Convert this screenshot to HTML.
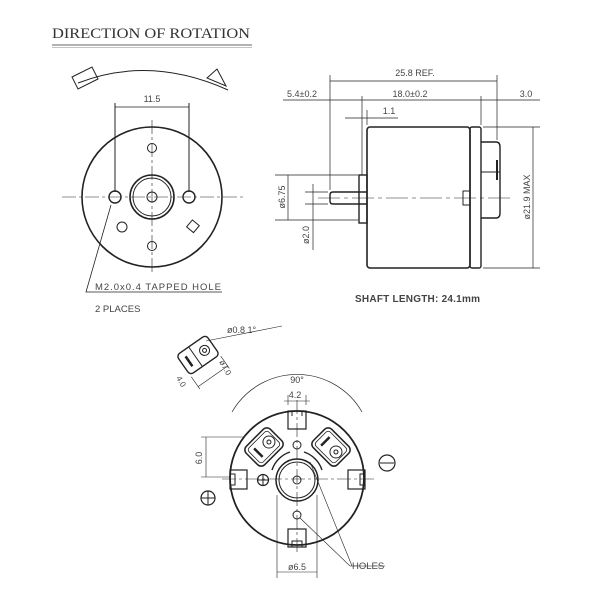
<!DOCTYPE html>
<html><head><style>body{margin:0;background:#fff}svg{display:block}text{font-family:"Liberation Sans",sans-serif;fill:#444}</style></head><body>
<svg width="600" height="600" viewBox="0 0 600 600" xmlns="http://www.w3.org/2000/svg" stroke="#222" fill="none">
<text x="52" y="38" style="font-family:'Liberation Serif',serif;font-size:15px;fill:#333" stroke="none" textLength="198" lengthAdjust="spacingAndGlyphs">DIRECTION OF ROTATION</text>
<line x1="52" y1="45" x2="252" y2="45" stroke-width="1" stroke="#666"/>
<line x1="52" y1="47.5" x2="252" y2="47.5" stroke-width="0.6" stroke="#888"/>
<!-- rotation arc -->
<path d="M78 83 Q150 55 228 90" stroke-width="1"/>
<polygon points="72,77 92,67 98,79 78,89" stroke-width="1"/>
<polygon points="207,78 217,69 226,86" stroke-width="1"/>
<!-- left view -->
<g stroke-width="1">
<line x1="115" y1="103" x2="115" y2="192"/><line x1="189" y1="103" x2="189" y2="192"/>
<line x1="115" y1="107" x2="189" y2="107" stroke-width="0.7"/>
<line x1="62" y1="197" x2="243" y2="197" stroke-dasharray="14 3 3 3" stroke-width="0.6"/>
<line x1="152" y1="120" x2="152" y2="275" stroke-dasharray="14 3 3 3" stroke-width="0.6"/>
</g>
<text x="152" y="102" font-size="9" text-anchor="middle" stroke="none">11.5</text>
<circle cx="152" cy="197" r="70" stroke-width="1.6"/>
<circle cx="152" cy="197" r="22" stroke-width="1.6"/><circle cx="152" cy="197" r="19" stroke-width="1"/>
<circle cx="152" cy="197" r="5"/>
<circle cx="152" cy="148" r="4.5"/><circle cx="152" cy="246" r="4.5"/>
<circle cx="115" cy="197" r="6" stroke-width="1.4"/><circle cx="189" cy="197" r="6" stroke-width="1.4"/>
<circle cx="122" cy="227" r="5"/>
<rect x="188" y="222" width="9" height="9" transform="rotate(40 193 227)"/>
<polyline points="111,205 86,292 222,292" stroke-width="0.8"/>
<text x="95" y="290" font-size="9.5" stroke="none" textLength="126">M2.0x0.4 TAPPED HOLE</text>
<text x="95" y="312" font-size="9.5" stroke="none">2 PLACES</text>
<!-- side view -->
<rect x="367" y="127" width="103" height="141" rx="3" stroke-width="1.6"/>
<rect x="470" y="127" width="11" height="141" rx="2" stroke-width="1.4"/>
<path d="M481 142 h15 q4 0 4 5 v66 q0 5 -4 5 h-15" stroke-width="1.4"/>
<line x1="481" y1="172" x2="500" y2="172"/><line x1="497" y1="160" x2="497" y2="180" stroke-width="2"/>
<path d="M367 192 h-34 q-3 0 -3 3 v6 q0 3 3 3 h34" stroke-width="1.4"/>
<rect x="359" y="175" width="8" height="48" stroke-width="1.4"/>
<rect x="463" y="191" width="7" height="14"/>
<line x1="318" y1="198" x2="510" y2="198" stroke-dasharray="22 4 4 4" stroke-width="0.6"/>
<g stroke-width="0.7">
<line x1="330" y1="75" x2="330" y2="190"/><line x1="497" y1="75" x2="497" y2="140"/>
<line x1="330" y1="81" x2="497" y2="81"/>
<line x1="283" y1="100" x2="540" y2="100"/>
<line x1="362" y1="96" x2="362" y2="175"/><line x1="481" y1="96" x2="481" y2="125"/>
<line x1="345" y1="118" x2="398" y2="118"/><line x1="367" y1="110" x2="367" y2="125"/>
<line x1="275" y1="175" x2="358" y2="175"/><line x1="275" y1="220" x2="358" y2="220"/>
<line x1="288" y1="175" x2="288" y2="220"/>
<line x1="305" y1="192" x2="328" y2="192"/><line x1="305" y1="204" x2="328" y2="204"/>
<line x1="313" y1="184" x2="313" y2="250"/>
<line x1="483" y1="127" x2="540" y2="127"/><line x1="483" y1="268" x2="540" y2="268"/>
<line x1="533" y1="127" x2="533" y2="268"/>
</g>
<text x="415" y="76" font-size="9" text-anchor="middle" stroke="none">25.8 REF.</text>
<text x="302" y="97" font-size="9" text-anchor="middle" stroke="none">5.4±0.2</text>
<text x="410" y="97" font-size="9" text-anchor="middle" stroke="none">18.0±0.2</text>
<text x="526" y="97" font-size="9" text-anchor="middle" stroke="none">3.0</text>
<text x="389" y="114" font-size="9" text-anchor="middle" stroke="none">1.1</text>
<text x="0" y="0" font-size="9" text-anchor="middle" stroke="none" transform="translate(285 197) rotate(-90)">ø6.75</text>
<text x="0" y="0" font-size="9" text-anchor="middle" stroke="none" transform="translate(309 235) rotate(-90)">ø2.0</text>
<text x="0" y="0" font-size="9" text-anchor="middle" stroke="none" transform="translate(530 197) rotate(-90)">ø21.9 MAX</text>
<text x="355" y="302" font-size="10" font-weight="bold" stroke="none" fill="#111" textLength="125">SHAFT LENGTH: 24.1mm</text>
<!-- small terminal detail -->
<g transform="rotate(-35 198 355)">
<rect x="180" y="343" width="36" height="24" rx="4" stroke-width="1.4"/>
<line x1="195" y1="343" x2="195" y2="367"/>
<circle cx="206" cy="355" r="5"/><circle cx="206" cy="355" r="2"/>
<line x1="187" y1="349" x2="187" y2="361" stroke-width="2.5"/>
<line x1="180" y1="369" x2="180" y2="384" stroke-width="0.6"/><line x1="216" y1="369" x2="216" y2="384" stroke-width="0.6"/>
<line x1="180" y1="381" x2="216" y2="381" stroke-width="0.6"/>
</g>
<line x1="206" y1="341" x2="282" y2="326" stroke-width="0.6"/>
<text x="227" y="333" font-size="9" stroke="none">ø0.8  1°</text>
<text x="0" y="0" font-size="8" stroke="none" transform="translate(176 378) rotate(60)">4.0</text>
<text x="0" y="0" font-size="8" stroke="none" transform="translate(219 362) rotate(60)">ø7.0</text>
<!-- bottom view -->
<path d="M232 412 A75 75 0 0 1 362 412" stroke-width="0.7"/>
<text x="297" y="383" font-size="9" text-anchor="middle" stroke="none">90°</text>
<line x1="288" y1="395" x2="288" y2="405" stroke-width="0.6"/><line x1="306" y1="395" x2="306" y2="405" stroke-width="0.6"/>
<line x1="284" y1="401" x2="310" y2="401" stroke-width="0.6"/>
<text x="295" y="398" font-size="9" text-anchor="middle" stroke="none">4.2</text>
<circle cx="297" cy="478" r="67" stroke-width="1.8"/>
<line x1="222" y1="479" x2="375" y2="479" stroke-dasharray="14 3 3 3" stroke-width="0.6"/>
<line x1="297" y1="400" x2="297" y2="555" stroke-dasharray="14 3 3 3" stroke-width="0.6"/>
<rect x="288" y="411" width="18" height="18" stroke-width="1.2"/><line x1="292" y1="411" x2="292" y2="416"/><line x1="302" y1="411" x2="302" y2="416"/>
<rect x="288" y="529" width="18" height="18" stroke-width="1.2"/><rect x="292" y="541" width="10" height="6"/>
<rect x="230" y="470" width="17" height="19" stroke-width="1.2"/><rect x="230" y="474" width="5" height="11"/>
<rect x="348" y="470" width="17" height="19" stroke-width="1.2"/><rect x="360" y="474" width="5" height="11"/>
<g transform="rotate(-45 264 447)">
<rect x="247" y="434" width="34" height="26" rx="5" stroke-width="1.5"/>
<rect x="250" y="437" width="28" height="20" rx="3" stroke-width="0.8"/>
<circle cx="271" cy="447" r="6"/><circle cx="271" cy="447" r="2"/>
<line x1="256" y1="441" x2="256" y2="453" stroke-width="2.5"/>
</g>
<g transform="rotate(45 331 447)">
<rect x="314" y="434" width="34" height="26" rx="5" stroke-width="1.5"/>
<rect x="317" y="437" width="28" height="20" rx="3" stroke-width="0.8"/>
<circle cx="338" cy="447" r="6"/><circle cx="338" cy="447" r="2"/>
<line x1="323" y1="441" x2="323" y2="453" stroke-width="2.5"/>
</g>
<circle cx="297" cy="480" r="21" stroke-width="1.5"/><circle cx="297" cy="480" r="18"/>
<circle cx="297" cy="480" r="4"/>
<path d="M272 470 A28 28 0 0 1 290 452" stroke-width="1.4"/><path d="M304 452 A28 28 0 0 1 322 470" stroke-width="1.4"/>
<circle cx="297" cy="445" r="4"/><circle cx="297" cy="515" r="4"/>
<line x1="201" y1="437" x2="245" y2="437" stroke-width="0.6"/><line x1="201" y1="477" x2="230" y2="477" stroke-width="0.6"/>
<line x1="206" y1="437" x2="206" y2="477" stroke-width="0.6"/>
<text x="0" y="0" font-size="9" text-anchor="middle" stroke="none" transform="translate(202 458) rotate(-90)">6.0</text>
<line x1="277" y1="495" x2="277" y2="578" stroke-width="0.6"/><line x1="317" y1="495" x2="317" y2="578" stroke-width="0.6"/>
<line x1="277" y1="572" x2="317" y2="572" stroke-width="0.6"/>
<text x="297" y="570" font-size="9" text-anchor="middle" stroke="none">ø6.5</text>
<polyline points="300,518 350,566 385,566" stroke-width="0.6"/><line x1="310" y1="462" x2="352" y2="566" stroke-width="0.6"/>
<text x="352" y="569" font-size="9.5" stroke="none">HOLES</text>
<circle cx="263" cy="480" r="5.5" stroke-width="1.2"/><line x1="257.5" y1="480" x2="268.5" y2="480"/><line x1="263" y1="474.5" x2="263" y2="485.5"/>
<circle cx="208" cy="498" r="7" stroke-width="1.2"/><line x1="201" y1="498" x2="215" y2="498"/><line x1="208" y1="491" x2="208" y2="505"/>
<circle cx="387" cy="463" r="8" stroke-width="1.2"/><line x1="380" y1="463" x2="394" y2="463"/>
</svg>
</body></html>
